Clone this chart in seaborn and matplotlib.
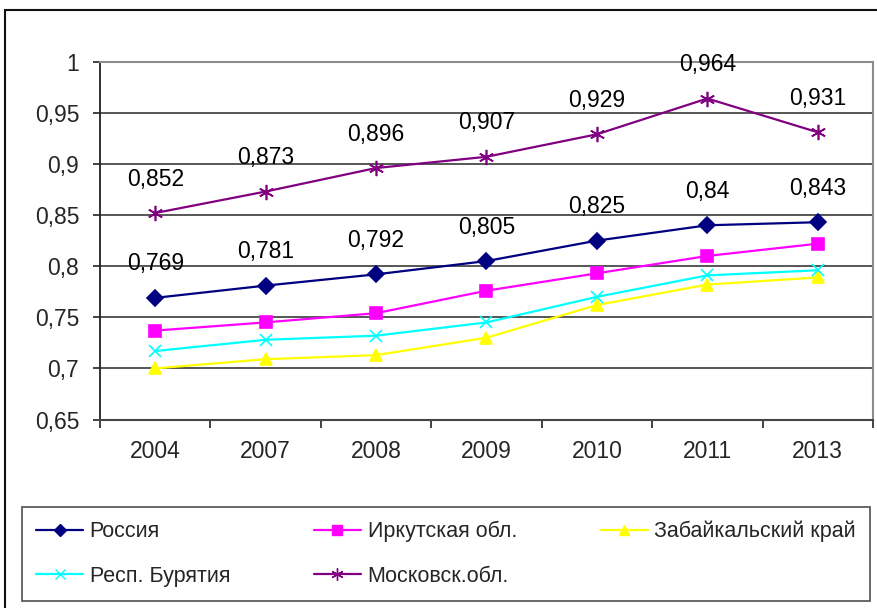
import numpy as np
import pandas as pd
import seaborn as sns
import matplotlib
matplotlib.use("Agg")
import matplotlib.pyplot as plt
from matplotlib.patches import Rectangle
from matplotlib.lines import Line2D

# data
years = ["2004", "2007", "2008", "2009", "2010", "2011", "2013"]
russia = [0.769, 0.781, 0.792, 0.805, 0.825, 0.840, 0.843]
irkutsk = [0.737, 0.745, 0.754, 0.776, 0.793, 0.810, 0.822]
zabaikal = [0.700, 0.709, 0.713, 0.730, 0.762, 0.782, 0.789]
buryatia = [0.717, 0.728, 0.732, 0.745, 0.770, 0.791, 0.796]
moscow = [0.852, 0.873, 0.896, 0.907, 0.929, 0.964, 0.931]
names = ["Россия", "Иркутская обл.", "Забайкальский край", "Респ. Бурятия", "Московск.обл."]
yticks = [0.65, 0.7, 0.75, 0.8, 0.85, 0.9, 0.95, 1.0]
ytick_labels = ["0,65", "0,7", "0,75", "0,8", "0,85", "0,9", "0,95", "1"]

sns.set_style("white")
plt.rcParams['font.family'] = ['Liberation Sans', 'DejaVu Sans']

fig = plt.figure(figsize=(8.77, 6.08), dpi=100)
ax = fig.add_axes([0.114, 0.31, 0.8814, 0.5885])

series = [
    (russia, names[0], "#000080", "D", 8),
    (irkutsk, names[1], "#FF00FF", "s", 9),
    (zabaikal, names[2], "#FFFF00", "^", 9),
    (buryatia, names[3], "#00FFFF", "x", 9),
    (moscow, names[4], "#800080", (6, 2, 0), 11),
]

df = pd.DataFrame({"year": years})
for vals, name, col, mk, ms in series:
    df[name] = vals
    sns.lineplot(data=df, x="year", y=name, ax=ax, color=col, marker=mk,
                 markersize=ms, markeredgecolor=col, markerfacecolor=col,
                 markeredgewidth=1.2, linewidth=1.6, label=name, legend=False,
                 zorder=3)

# data labels for Russia and Moscow
for vals in (russia, moscow):
    for i, v in enumerate(vals):
        ax.annotate(f"{v:g}".replace(".", ","), (i, v), xytext=(0, 34),
                    textcoords="offset pixels", ha="center", va="center",
                    fontsize=16.5, color="black")

ax.set_xlim(-0.5, len(years) - 0.5)
ax.set_ylim(0.65, 1.0)
ax.set_yticks(yticks)
ax.set_yticklabels(ytick_labels, fontsize=16.5)
ax.set_xticks(range(len(years)))
ax.set_xticklabels(years, fontsize=16.5)
ax.set_xticks(np.arange(-0.5, len(years)), minor=True)
ax.tick_params(axis="x", which="major", length=0, pad=15)
ax.tick_params(axis="x", which="minor", length=6, width=1.2, color="#222222", direction="out", bottom=True)
ax.tick_params(axis="y", length=5, width=1.2, color="#222222", pad=10, left=True)
ax.set_xlabel("")
ax.set_ylabel("")
ax.yaxis.grid(True, color="#3a3a3a", linewidth=1.2)
ax.xaxis.grid(False)
ax.set_axisbelow(True)
for s in ("top", "right"):
    ax.spines[s].set_color("#8c8c8c")
    ax.spines[s].set_linewidth(1.5)
ax.spines["left"].set_color("#222222")
ax.spines["bottom"].set_color("#444444")
ax.spines["left"].set_linewidth(1.3)
ax.spines["bottom"].set_linewidth(1.5)

# legend, filled row by row
handles = {}
for vals, name, col, mk, ms in series:
    handles[name] = Line2D([], [], color=col, marker=mk, markersize=ms * 0.8,
                           markeredgecolor=col, markerfacecolor=col, linewidth=1.6)
order = [names[0], names[3], names[1], names[4], names[2]]
leg = fig.legend([handles[n] for n in order], order, ncol=3, mode="expand",
                 bbox_to_anchor=(0.025, 0.0115, 0.967, 0.158), loc="lower left",
                 borderaxespad=0, fontsize=15.5, frameon=True, fancybox=False,
                 edgecolor="#222222", handlelength=2.2, handletextpad=0.3,
                 borderpad=0.65, labelspacing=1.1)
leg.get_frame().set_linewidth(1.2)

# outer frame of the chart area
fig.patches.append(Rectangle((5 / 877, -0.05), 1.1, 0.05 + 1 - 10 / 608,
                             transform=fig.transFigure, fill=False,
                             edgecolor="#111111", linewidth=1.5))

fig.savefig("out.png", dpi=100)
